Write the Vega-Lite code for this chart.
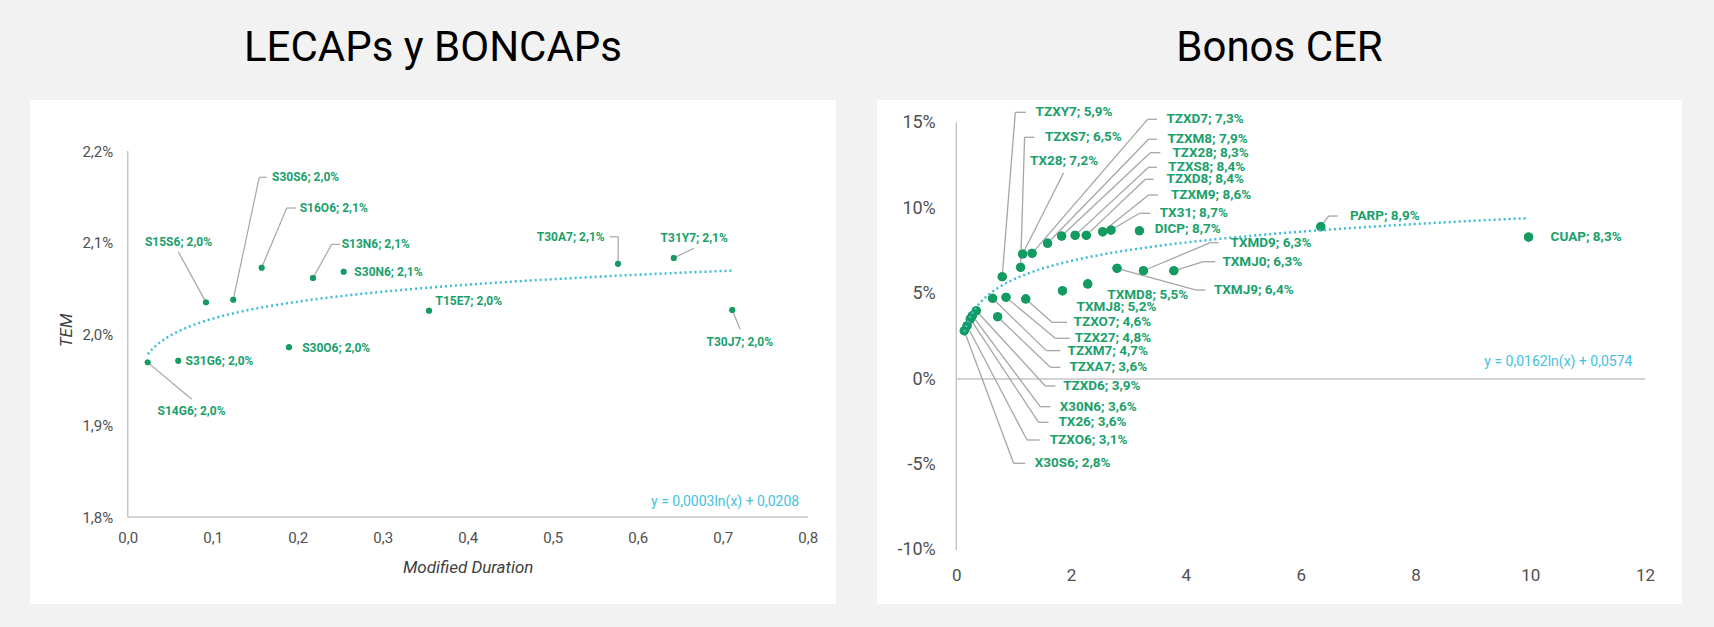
{
  "$schema": "https://vega.github.io/schema/vega-lite/v6.json",
  "background": "#f2f2f2",
  "padding": {"left": 30, "top": 27, "right": 32, "bottom": 23},
  "spacing": 41,
  "datasets": {
    "lecaps": [
      {"name": "S14G6", "x": 0.0235, "y": 0.01969, "label": "S14G6; 2,0%", "lx": 0.0751, "ly": 0.019158, "ex": 0.0753, "ey": 0.019286},
      {"name": "S31G6", "x": 0.0595, "y": 0.019708, "label": "S31G6; 2,0%", "lx": 0.108, "ly": 0.019708},
      {"name": "S15S6", "x": 0.0921, "y": 0.020346, "label": "S15S6; 2,0%", "lx": 0.0598, "ly": 0.021002, "ex": 0.0595, "ey": 0.020899},
      {"name": "S30S6", "x": 0.1242, "y": 0.020375, "label": "S30S6; 2,0%", "lx": 0.2093, "ly": 0.021713, "ex": 0.1548, "ey": 0.021713, "hx": 0.1635},
      {"name": "S16O6", "x": 0.1576, "y": 0.020725, "label": "S16O6; 2,1%", "lx": 0.2424, "ly": 0.021377, "ex": 0.1871, "ey": 0.021377, "hx": 0.1976},
      {"name": "S30O6", "x": 0.1898, "y": 0.019855, "label": "S30O6; 2,0%", "lx": 0.2453, "ly": 0.01985},
      {"name": "S13N6", "x": 0.218, "y": 0.020612, "label": "S13N6; 2,1%", "lx": 0.2919, "ly": 0.02098, "ex": 0.24, "ey": 0.02098, "hx": 0.2498},
      {"name": "S30N6", "x": 0.2541, "y": 0.020681, "label": "S30N6; 2,1%", "lx": 0.3068, "ly": 0.020681},
      {"name": "T15E7", "x": 0.3545, "y": 0.020255, "label": "T15E7; 2,0%", "lx": 0.4013, "ly": 0.020361},
      {"name": "T30A7", "x": 0.5768, "y": 0.020768, "label": "T30A7; 2,1%", "lx": 0.5212, "ly": 0.021063, "ex": 0.5772, "ey": 0.021063, "hx": 0.5674},
      {"name": "T31Y7", "x": 0.6424, "y": 0.020831, "label": "T31Y7; 2,1%", "lx": 0.6665, "ly": 0.021046, "ex": 0.6662, "ey": 0.020937},
      {"name": "T30J7", "x": 0.7113, "y": 0.020262, "label": "T30J7; 2,0%", "lx": 0.7201, "ly": 0.019909, "ex": 0.7204, "ey": 0.020051}
    ],
    "cer": [
      {"name": "X30S6", "x": 0.139, "y": 0.0282, "label": "X30S6; 2,8%", "lx": 2.026, "ly": -0.0493, "ex": 0.998, "ey": -0.0493, "hx": 1.202},
      {"name": "TZXO6", "x": 0.188, "y": 0.0311, "label": "TZXO6; 3,1%", "lx": 2.305, "ly": -0.03567, "ex": 1.232, "ey": -0.03567, "hx": 1.451},
      {"name": "TX26", "x": 0.244, "y": 0.0351, "label": "TX26; 3,6%", "lx": 2.373, "ly": -0.02532, "ex": 1.434, "ey": -0.02532, "hx": 1.608},
      {"name": "X30N6", "x": 0.279, "y": 0.037, "label": "X30N6; 3,6%", "lx": 2.474, "ly": -0.0162, "ex": 1.463, "ey": -0.0162, "hx": 1.638},
      {"name": "TZXD6", "x": 0.348, "y": 0.0399, "label": "TZXD6; 3,9%", "lx": 2.535, "ly": -0.00409, "ex": 1.551, "ey": -0.00409, "hx": 1.725},
      {"name": "TZXM7", "x": 0.632, "y": 0.0472, "label": "TZXM7; 4,7%", "lx": 2.639, "ly": 0.0166, "ex": 1.568, "ey": 0.0166, "hx": 1.812},
      {"name": "TZXA7", "x": 0.72, "y": 0.0364, "label": "TZXA7; 3,6%", "lx": 2.648, "ly": 0.00684, "ex": 1.638, "ey": 0.00684, "hx": 1.812},
      {"name": "TZXY7", "x": 0.8, "y": 0.0598, "label": "TZXY7; 5,9%", "lx": 2.052, "ly": 0.15596, "ex": 1.028, "ey": 0.15596, "hx": 1.214},
      {"name": "TZX27", "x": 0.866, "y": 0.0478, "label": "TZX27; 4,8%", "lx": 2.73, "ly": 0.0238, "ex": 1.725, "ey": 0.0238, "hx": 1.974},
      {"name": "TZXS7", "x": 1.12, "y": 0.0653, "label": "TZXS7; 6,5%", "lx": 2.213, "ly": 0.14135, "ex": 1.19, "ey": 0.14135, "hx": 1.359},
      {"name": "TX28", "x": 1.155, "y": 0.0731, "label": "TX28; 7,2%", "lx": 1.878, "ly": 0.12749, "ex": 1.87, "ey": 0.12064},
      {"name": "TZXO7", "x": 1.21, "y": 0.0468, "label": "TZXO7; 4,6%", "lx": 2.721, "ly": 0.03316, "ex": 1.667, "ey": 0.03316, "hx": 1.929},
      {"name": "TZXD7", "x": 1.32, "y": 0.0735, "label": "TZXD7; 7,3%", "lx": 4.335, "ly": 0.15187, "ex": 3.333, "ey": 0.15187, "hx": 3.496},
      {"name": "TZXM8", "x": 1.59, "y": 0.0794, "label": "TZXM8; 7,9%", "lx": 4.378, "ly": 0.14018, "ex": 3.35, "ey": 0.14018, "hx": 3.496},
      {"name": "TZX28", "x": 1.835, "y": 0.0836, "label": "TZX28; 8,3%", "lx": 4.43, "ly": 0.13234, "ex": 3.38, "ey": 0.13234, "hx": 3.554},
      {"name": "TXMJ8", "x": 1.85, "y": 0.0516, "label": "TXMJ8; 5,2%", "lx": 2.791, "ly": 0.04228},
      {"name": "TZXS8", "x": 2.07, "y": 0.084, "label": "TZXS8; 8,4%", "lx": 4.364, "ly": 0.1238, "ex": 3.35, "ey": 0.1238, "hx": 3.496},
      {"name": "TZXD8", "x": 2.265, "y": 0.084, "label": "TZXD8; 8,4%", "lx": 4.338, "ly": 0.11678, "ex": 3.293, "ey": 0.11678, "hx": 3.437},
      {"name": "TXMD8", "x": 2.29, "y": 0.0556, "label": "TXMD8; 5,5%", "lx": 3.336, "ly": 0.04912},
      {"name": "TZXM9", "x": 2.55, "y": 0.0861, "label": "TZXM9; 8,6%", "lx": 4.439, "ly": 0.1076, "ex": 3.35, "ey": 0.1076, "hx": 3.514},
      {"name": "TX31", "x": 2.695, "y": 0.0871, "label": "TX31; 8,7%", "lx": 4.138, "ly": 0.0969, "ex": 3.194, "ey": 0.0969, "hx": 3.38},
      {"name": "TXMJ9", "x": 2.8, "y": 0.0647, "label": "TXMJ9; 6,4%", "lx": 5.183, "ly": 0.05205, "ex": 4.164, "ey": 0.05205, "hx": 4.338},
      {"name": "DICP", "x": 3.19, "y": 0.0867, "label": "DICP; 8,7%", "lx": 4.033, "ly": 0.08772},
      {"name": "TXMD9", "x": 3.26, "y": 0.0633, "label": "TXMD9; 6,3%", "lx": 5.483, "ly": 0.07971, "ex": 4.425, "ey": 0.07971, "hx": 4.57},
      {"name": "TXMJ0", "x": 3.79, "y": 0.0633, "label": "TXMJ0; 6,3%", "lx": 5.331, "ly": 0.0686, "ex": 4.303, "ey": 0.0686, "hx": 4.512},
      {"name": "PARP", "x": 6.35, "y": 0.0891, "label": "PARP; 8,9%", "lx": 7.465, "ly": 0.09532, "ex": 6.488, "ey": 0.09532, "hx": 6.65},
      {"name": "CUAP", "x": 9.97, "y": 0.083, "label": "CUAP; 8,3%", "lx": 10.972, "ly": 0.08304}
    ]
  },
  "hconcat": [
    {
      "width": 806,
      "height": 504,
      "title": {"text": "LECAPs y BONCAPs"},
      "data": {"name": "lecaps"},
      "resolve": {"axis": {"x": "independent", "y": "independent"}},
      "layer": [
        {
          "mark": {"type": "circle", "color": "#139b62", "opacity": 1, "size": 34},
          "encoding": {
            "x": {
              "field": "x", "type": "quantitative",
              "scale": {"domain": [-0.11494, 0.83329], "nice": false, "zero": false},
              "axis": {
                "values": [0, 0.1, 0.2, 0.3, 0.4, 0.5, 0.6, 0.7, 0.8],
                "format": ".1f", "offset": -87, "labelPadding": 13,
                "title": "Modified Duration", "titleX": 437.7, "titleY": 50,
                "titleAlign": "center", "titleBaseline": "middle"
              }
            },
            "y": {
              "field": "y", "type": "quantitative",
              "scale": {"domain": [0.0170492, 0.0225574], "nice": false, "zero": false},
              "axis": {
                "values": [0.018, 0.019, 0.02, 0.021, 0.022],
                "format": ".1%", "offset": -97.7, "labelPadding": 15,
                "title": "TEM", "titleX": -61, "titleY": 230, "titleAngle": 270,
                "titleAlign": "center", "titleBaseline": "middle"
              }
            },
            "tooltip": [{"field": "name"}, {"field": "x", "format": ".2f"}, {"field": "y", "format": ".2%"}]
          }
        },
        {
          "data": {"values": [{}]},
          "mark": {"type": "rule", "color": "#c6c6c6", "strokeWidth": 1.5},
          "encoding": {
            "x": {"datum": 0, "type": "quantitative", "axis": null},
            "y": {"datum": 0.018, "type": "quantitative", "axis": null},
            "y2": {"datum": 0.022}
          }
        },
        {
          "data": {"values": [{}]},
          "mark": {"type": "rule", "color": "#c6c6c6", "strokeWidth": 1.5},
          "encoding": {
            "x": {"datum": 0, "type": "quantitative", "axis": null},
            "x2": {"datum": 0.8},
            "y": {"datum": 0.018, "type": "quantitative", "axis": null}
          }
        },
        {
          "transform": [{"filter": "datum.ex != null"}],
          "mark": {"type": "rule", "color": "#a6a6a6", "strokeWidth": 1.2},
          "encoding": {
            "x": {"field": "x", "type": "quantitative", "axis": null},
            "y": {"field": "y", "type": "quantitative", "axis": null},
            "x2": {"field": "ex"},
            "y2": {"field": "ey"}
          }
        },
        {
          "transform": [{"filter": "datum.hx != null"}],
          "mark": {"type": "rule", "color": "#a6a6a6", "strokeWidth": 1.2},
          "encoding": {
            "x": {"field": "ex", "type": "quantitative", "axis": null},
            "y": {"field": "ey", "type": "quantitative", "axis": null},
            "x2": {"field": "hx"}
          }
        },
        {
          "mark": {"type": "circle", "color": "#139b62", "opacity": 1, "size": 34},
          "encoding": {
            "x": {"field": "x", "type": "quantitative", "axis": null},
            "y": {"field": "y", "type": "quantitative", "axis": null}
          }
        },
        {
          "transform": [{"regression": "y", "on": "x", "method": "log"}],
          "mark": {"type": "line", "color": "#3cbcd8", "strokeDash": [2, 3], "strokeWidth": 2.5},
          "encoding": {
            "x": {"field": "x", "type": "quantitative", "axis": null},
            "y": {"field": "y", "type": "quantitative", "axis": null}
          }
        },
        {
          "mark": {"type": "text", "font": "Roboto", "fontWeight": "bold", "fontSize": 12, "color": "#1ba06b", "align": "center", "baseline": "middle"},
          "encoding": {
            "x": {"field": "lx", "type": "quantitative", "axis": null},
            "y": {"field": "ly", "type": "quantitative", "axis": null},
            "text": {"field": "label"}
          }
        },
        {
          "data": {"values": [{}]},
          "mark": {"type": "text", "font": "Roboto", "fontSize": 14, "color": "#45c1e0", "align": "right", "baseline": "middle"},
          "encoding": {
            "x": {"datum": 0.79, "type": "quantitative", "axis": null},
            "y": {"datum": 0.01816, "type": "quantitative", "axis": null},
            "text": {"value": "y = 0,0003ln(x) + 0,0208"}
          }
        }
      ]
    },
    {
      "width": 805,
      "height": 504,
      "title": {"text": "Bonos CER"},
      "data": {"name": "cer"},
      "resolve": {"axis": {"x": "independent", "y": "independent"}},
      "layer": [
        {
          "mark": {"type": "circle", "color": "#139b62", "opacity": 1, "size": 85},
          "encoding": {
            "x": {
              "field": "x", "type": "quantitative",
              "scale": {"domain": [-1.3815, 12.643], "nice": false, "zero": false},
              "axis": {
                "values": [0, 2, 4, 6, 8, 10, 12],
                "format": "d", "offset": -53.5, "labelPadding": 17,
                "labelFontSize": 17, "title": null
              }
            },
            "y": {
              "field": "y", "type": "quantitative",
              "scale": {"domain": [-0.13158, 0.16316], "nice": false, "zero": false},
              "axis": {
                "values": [-0.1, -0.05, 0, 0.05, 0.1, 0.15],
                "format": ".0%", "offset": -79.3, "labelPadding": 21,
                "labelFontSize": 18, "title": null
              }
            },
            "tooltip": [{"field": "name"}, {"field": "x", "format": ".2f"}, {"field": "y", "format": ".2%"}]
          }
        },
        {
          "data": {"values": [{}]},
          "mark": {"type": "rule", "color": "#c6c6c6", "strokeWidth": 1.5},
          "encoding": {
            "x": {"datum": 0, "type": "quantitative", "axis": null},
            "y": {"datum": -0.1, "type": "quantitative", "axis": null},
            "y2": {"datum": 0.15}
          }
        },
        {
          "data": {"values": [{}]},
          "mark": {"type": "rule", "color": "#c6c6c6", "strokeWidth": 1.5},
          "encoding": {
            "x": {"datum": 0, "type": "quantitative", "axis": null},
            "x2": {"datum": 12},
            "y": {"datum": 0, "type": "quantitative", "axis": null}
          }
        },
        {
          "transform": [{"filter": "datum.ex != null"}],
          "mark": {"type": "rule", "color": "#a6a6a6", "strokeWidth": 1.3},
          "encoding": {
            "x": {"field": "x", "type": "quantitative", "axis": null},
            "y": {"field": "y", "type": "quantitative", "axis": null},
            "x2": {"field": "ex"},
            "y2": {"field": "ey"}
          }
        },
        {
          "transform": [{"filter": "datum.hx != null"}],
          "mark": {"type": "rule", "color": "#a6a6a6", "strokeWidth": 1.3},
          "encoding": {
            "x": {"field": "ex", "type": "quantitative", "axis": null},
            "y": {"field": "ey", "type": "quantitative", "axis": null},
            "x2": {"field": "hx"}
          }
        },
        {
          "mark": {"type": "circle", "color": "#139b62", "opacity": 1, "size": 85},
          "encoding": {
            "x": {"field": "x", "type": "quantitative", "axis": null},
            "y": {"field": "y", "type": "quantitative", "axis": null}
          }
        },
        {
          "transform": [{"regression": "y", "on": "x", "method": "log"}],
          "mark": {"type": "line", "color": "#3cbcd8", "strokeDash": [2, 3], "strokeWidth": 2.5},
          "encoding": {
            "x": {"field": "x", "type": "quantitative", "axis": null},
            "y": {"field": "y", "type": "quantitative", "axis": null}
          }
        },
        {
          "mark": {"type": "text", "font": "Roboto", "fontWeight": "bold", "fontSize": 13.5, "color": "#1ba06b", "align": "center", "baseline": "middle"},
          "encoding": {
            "x": {"field": "lx", "type": "quantitative", "axis": null},
            "y": {"field": "ly", "type": "quantitative", "axis": null},
            "text": {"field": "label"}
          }
        },
        {
          "data": {"values": [{}]},
          "mark": {"type": "text", "font": "Roboto", "fontSize": 14, "color": "#45c1e0", "align": "right", "baseline": "middle"},
          "encoding": {
            "x": {"datum": 11.78, "type": "quantitative", "axis": null},
            "y": {"datum": 0.0101, "type": "quantitative", "axis": null},
            "text": {"value": "y = 0,0162ln(x) + 0,0574"}
          }
        }
      ]
    }
  ],
  "config": {
    "locale": {
      "number": {"decimal": ",", "thousands": ".", "grouping": [3], "currency": ["$", ""], "minus": "-"}
    },
    "view": {"fill": "white", "stroke": null},
    "title": {"font": "Roboto", "fontSize": 42, "fontWeight": "normal", "color": "#000000", "anchor": "middle", "baseline": "alphabetic", "offset": 30},
    "axis": {
      "domain": false, "ticks": false, "grid": false,
      "labelFont": "Roboto", "labelFontSize": 15, "labelColor": "#505050",
      "titleFont": "Roboto", "titleFontSize": 17, "titleFontWeight": "normal", "titleFontStyle": "italic", "titleColor": "#404040"
    }
  }
}
